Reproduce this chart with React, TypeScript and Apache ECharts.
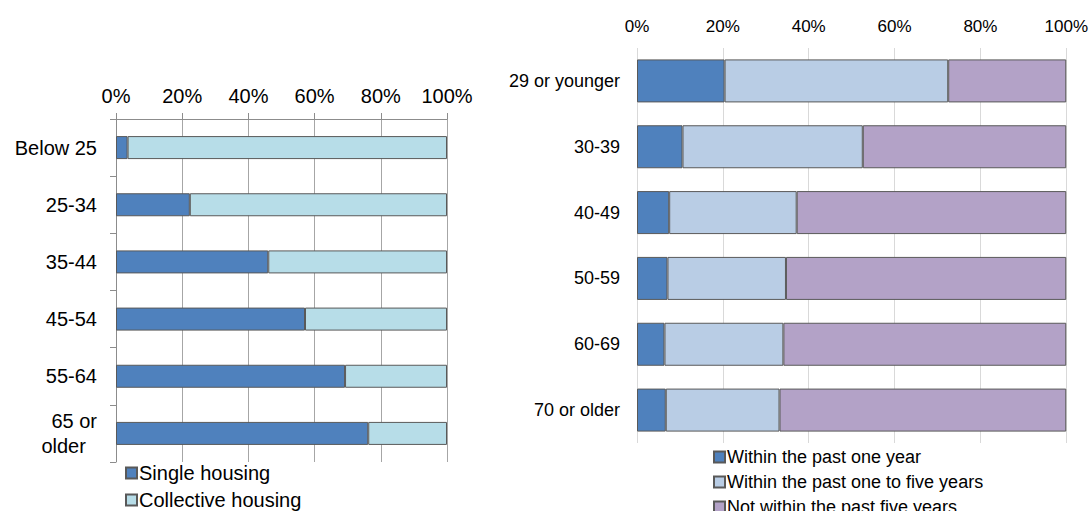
import React, { useEffect, useRef } from "react";
import * as echarts from "echarts";

const leftCategories = ["Below 25", "25-34", "35-44", "45-54", "55-64", "65 or older"];
const singleHousing = [3.5, 22.3, 46.0, 57.1, 69.2, 76.2];
const collectiveHousing = [96.5, 77.7, 54.0, 42.9, 30.8, 23.8];

const rightCategories = ["29 or younger", "30-39", "40-49", "50-59", "60-69", "70 or older"];
const withinOneYear = [20.4, 10.6, 7.5, 7.1, 6.4, 6.7];
const withinOneToFive = [52.1, 42.0, 29.7, 27.6, 27.7, 26.5];
const notWithinFive = [27.5, 47.4, 62.8, 65.3, 65.9, 66.8];

const FONT = "'Liberation Sans', Arial, sans-serif";
const BORDER = "#595959";

export default function App() {
  const ref = useRef<HTMLDivElement>(null);
  useEffect(() => {
    if (!ref.current) return;
    const chart = echarts.init(ref.current, undefined, { renderer: "svg" });
    const bar = (name: string, data: number[], color: string, xi: number, stack: string, width: number) => ({
      name,
      type: "bar",
      stack,
      xAxisIndex: xi,
      yAxisIndex: xi,
      barWidth: width,
      data,
      itemStyle: { color, borderColor: BORDER, borderWidth: 1 },
      emphasis: { disabled: true },
    });
    chart.setOption({
      animation: false,
      textStyle: { fontFamily: FONT, color: "#000" },
      grid: [
        { left: 116, top: 119, width: 331, height: 343 },
        { left: 637, top: 48, width: 430, height: 395 },
      ],
      xAxis: [
        {
          gridIndex: 0,
          type: "value",
          position: "top",
          min: 0,
          max: 100,
          interval: 20,
          axisLine: { show: true, lineStyle: { color: "#8c8c8c", width: 1 } },
          axisTick: { show: true, length: 6, lineStyle: { color: "#8c8c8c" } },
          axisLabel: { formatter: "{value}%", fontSize: 20, color: "#000", margin: 13, fontFamily: FONT },
          splitLine: { show: true, lineStyle: { color: "#a6a6a6", width: 1 } },
        },
        {
          gridIndex: 1,
          type: "value",
          position: "top",
          min: 0,
          max: 100,
          interval: 20,
          axisLine: { show: false },
          axisTick: { show: false },
          axisLabel: { formatter: "{value}%", fontSize: 17, color: "#000", margin: 13, fontFamily: FONT },
          splitLine: { show: true, lineStyle: { color: "#d9d9d9", width: 1 } },
        },
      ],
      yAxis: [
        {
          gridIndex: 0,
          type: "category",
          inverse: true,
          data: leftCategories,
          axisLine: { show: true, lineStyle: { color: "#8c8c8c", width: 1 } },
          axisTick: { show: true, length: 6, lineStyle: { color: "#8c8c8c" } },
          axisLabel: {
            fontSize: 20,
            color: "#000",
            margin: 19,
            fontFamily: FONT,
            lineHeight: 25,
            formatter: (v: string) => (v === "65 or older" ? "65 or\nolder  " : v),
          },
        },
        {
          gridIndex: 1,
          type: "category",
          inverse: true,
          data: rightCategories,
          axisLine: { show: false },
          axisTick: { show: false },
          axisLabel: { fontSize: 18, color: "#000", margin: 17, fontFamily: FONT },
        },
      ],
      legend: [
        {
          orient: "vertical",
          left: 120,
          top: 458,
          itemWidth: 11,
          itemHeight: 11,
          itemGap: 7,
          icon: "rect",
          data: ["Single housing", "Collective housing"],
          textStyle: { fontSize: 20, color: "#000", fontFamily: FONT, padding: [0, 0, 0, -3] },
          selectedMode: false,
        },
        {
          orient: "vertical",
          left: 708,
          top: 443,
          itemWidth: 11,
          itemHeight: 11,
          itemGap: 7,
          icon: "rect",
          data: ["Within the past one year", "Within the past one to five years", "Not within the past five years"],
          textStyle: { fontSize: 18, color: "#000", fontFamily: FONT, padding: [0, 0, 0, -3] },
          selectedMode: false,
        },
      ],
      series: [
        bar("Single housing", singleHousing, "#4f81bd", 0, "left", 23),
        bar("Collective housing", collectiveHousing, "#b7dde8", 0, "left", 23),
        bar("Within the past one year", withinOneYear, "#4f81bd", 1, "right", 43),
        bar("Within the past one to five years", withinOneToFive, "#b9cde5", 1, "right", 43),
        bar("Not within the past five years", notWithinFive, "#b3a2c7", 1, "right", 43),
      ],
    });
    return () => chart.dispose();
  }, []);
  return (
    <div style={{ position: "fixed", left: 0, top: 0, width: 1091, height: 511, overflow: "hidden", background: "#fff" }}>
      <div ref={ref} style={{ width: 1091, height: 620 }} />
    </div>
  );
}
